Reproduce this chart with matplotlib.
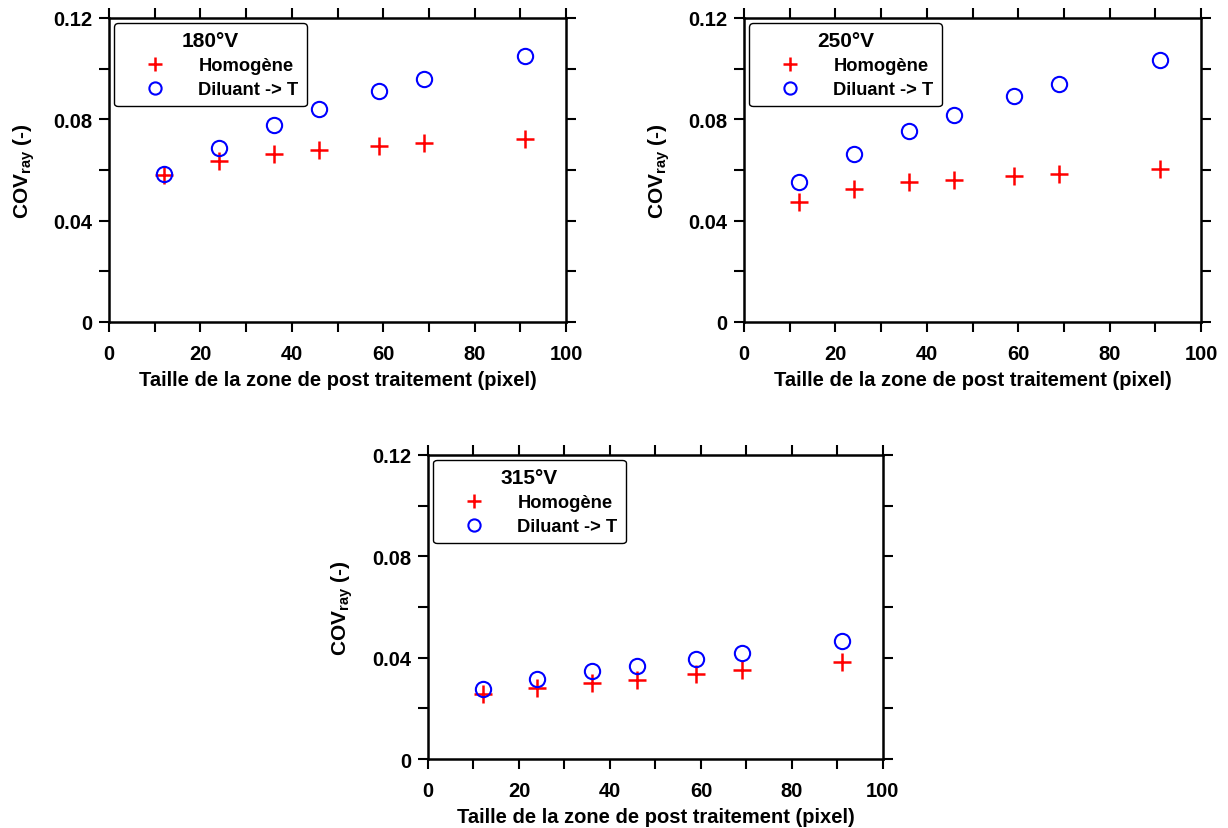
import matplotlib
matplotlib.use("Agg")
import matplotlib.pyplot as plt
from matplotlib.ticker import MultipleLocator, FixedLocator

plt.rcParams['font.family'] = ['Liberation Sans', 'DejaVu Sans']
plt.rcParams['font.weight'] = 'bold'
plt.rcParams['mathtext.fontset'] = 'custom'
plt.rcParams['mathtext.rm'] = 'Liberation Sans:bold'
plt.rcParams['mathtext.bf'] = 'Liberation Sans:bold'

taille = [12, 24, 36, 46, 59, 69, 91]

homog_180 = [0.0580, 0.0634, 0.0665, 0.0678, 0.0693, 0.0705, 0.0724]
dilu_180 = [0.0584, 0.0687, 0.0778, 0.0840, 0.0913, 0.0960, 0.1050]

homog_250 = [0.0475, 0.0526, 0.0551, 0.0561, 0.0577, 0.0584, 0.0604]
dilu_250 = [0.0551, 0.0663, 0.0754, 0.0819, 0.0891, 0.0938, 0.1034]

homog_315 = [0.0256, 0.0279, 0.0299, 0.0312, 0.0335, 0.0351, 0.0381]
dilu_315 = [0.0277, 0.0317, 0.0347, 0.0368, 0.0396, 0.0418, 0.0467]

titres = ['180°V', '250°V', '315°V']
xlabel = 'Taille de la zone de post traitement (pixel)'
ylabel = r'COV$_{\mathbf{ray}}$ (-)'

fig = plt.figure(figsize=(12.28, 8.29), dpi=100)
positions = [[0.0888, 0.6104, 0.3722, 0.3667],
             [0.6059, 0.6104, 0.3722, 0.3667],
             [0.3485, 0.0832, 0.3705, 0.3668]]
donnees = [(homog_180, dilu_180), (homog_250, dilu_250), (homog_315, dilu_315)]

for pos, (h, d), titre in zip(positions, donnees, titres):
    ax = fig.add_axes(pos)
    ax.plot(taille, h, linestyle='none', marker='+', color='red',
            markersize=13, markeredgewidth=1.8, label='Homogène')
    ax.plot(taille, d, linestyle='none', marker='o', markerfacecolor='none',
            markeredgecolor='blue', markersize=11, markeredgewidth=1.5,
            label='Diluant -> T')
    ax.set_xlim(0, 100)
    ax.set_ylim(0, 0.12)
    ax.xaxis.set_major_locator(MultipleLocator(20))
    ax.xaxis.set_minor_locator(MultipleLocator(10))
    ax.yaxis.set_major_locator(FixedLocator([0, 0.04, 0.08, 0.12]))
    ax.yaxis.set_minor_locator(MultipleLocator(0.02))
    ax.set_yticklabels(['0', '0.04', '0.08', '0.12'])
    ax.tick_params(which='both', direction='out', length=7, width=1.5,
                   top=True, right=True, labelsize=14.5)
    ax.tick_params(axis='x', which='both', pad=9)
    ax.tick_params(axis='y', which='both', pad=5)
    for s in ax.spines.values():
        s.set_linewidth(1.8)
    for lab in ax.get_xticklabels() + ax.get_yticklabels():
        lab.set_fontweight('bold')
    ax.set_xlabel(xlabel, fontsize=14.5, fontweight='bold', labelpad=5)
    ax.set_ylabel(ylabel, fontsize=15, fontweight='bold', labelpad=12)
    leg = ax.legend(loc='upper left', bbox_to_anchor=(0.011, 0.984),
                    borderaxespad=0, title=titre, fancybox=True,
                    edgecolor='black', framealpha=1, fontsize=13.2,
                    markerscale=0.8, handlelength=3.6, handletextpad=0.55,
                    borderpad=0.45, labelspacing=0.38)
    leg.set_zorder(1)
    leg.get_title().set_fontsize(15)
    leg.get_title().set_fontweight('bold')
    leg.get_frame().set_linewidth(1.0)
    for t in leg.get_texts():
        t.set_fontweight('bold')

fig.savefig('out.png', dpi=100)
